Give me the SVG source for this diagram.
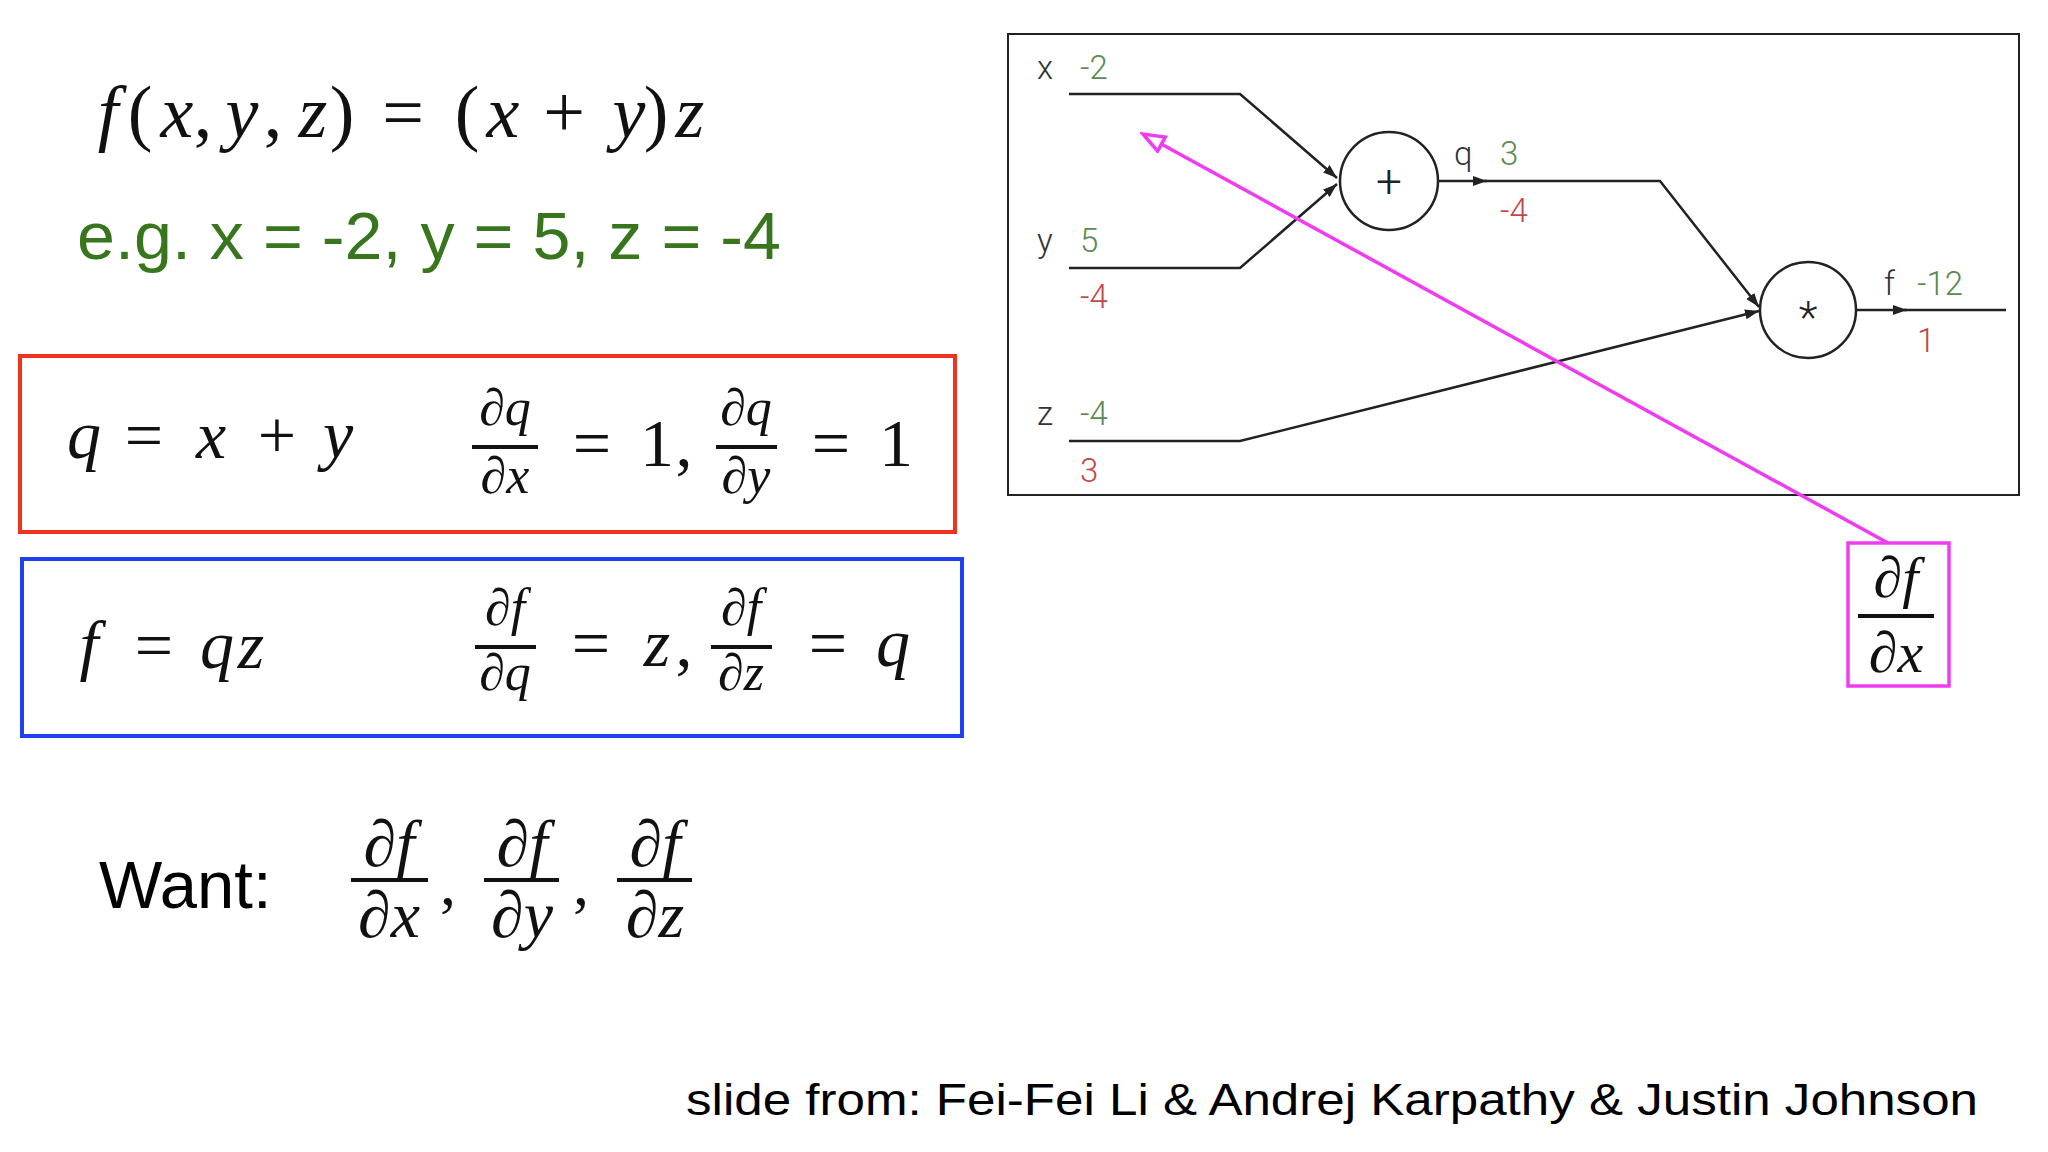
<svg xmlns="http://www.w3.org/2000/svg" width="2048" height="1152" viewBox="0 0 2048 1152">
<defs>
<style>
.m{font-family:"Liberation Serif","Times New Roman",serif;fill:#111}
.i{font-style:italic}
.sans{font-family:"Liberation Sans",Arial,sans-serif}
.lab{font-family:Roboto,"Liberation Sans",sans-serif;font-weight:300;font-size:33px}
.op{font-family:Roboto,"Liberation Sans",sans-serif;font-weight:300;fill:#222}
.lk{fill:#333}
.lg{fill:#5b8a50}
.lr{fill:#c04848}
.edge{fill:none;stroke:#222;stroke-width:2.5}
.bar{stroke:#111;stroke-width:4}
.node{fill:#fff;stroke:#222;stroke-width:2.5}
</style>
<marker id="ah" markerUnits="userSpaceOnUse" markerWidth="14" markerHeight="10" refX="14" refY="5" orient="auto"><path d="M0,0 L14,5 L0,10 z" fill="#222"/></marker>
<marker id="mh" markerUnits="userSpaceOnUse" markerWidth="26" markerHeight="20" refX="23" refY="10" orient="auto"><path d="M2,2 L23,10 L2,18 z" fill="#fff" stroke="#f03cf0" stroke-width="3.5"/></marker>
</defs>
<rect width="2048" height="1152" fill="#fff"/>

<g id="formula">
<text class="m" font-size="74" y="137" text-anchor="middle"><tspan class="i" x="108">f</tspan><tspan x="140">(</tspan><tspan class="i" x="177">x</tspan><tspan x="203">,</tspan><tspan class="i" x="242">y</tspan><tspan x="273">,</tspan><tspan class="i" x="313">z</tspan><tspan x="342">)</tspan><tspan x="403">=</tspan><tspan x="467">(</tspan><tspan class="i" x="503">x</tspan><tspan x="564">+</tspan><tspan class="i" x="629">y</tspan><tspan x="656">)</tspan><tspan class="i" x="690">z</tspan></text>
</g>

<g id="example">
<text class="sans" font-size="66" x="77" y="259" fill="#38761d" textLength="704" lengthAdjust="spacingAndGlyphs">e.g. x = -2, y = 5, z = -4</text>
</g>

<g id="add-box">
<rect x="20" y="356" width="935" height="176" fill="none" stroke="#f0321e" stroke-width="4"/>
<text class="m" font-size="68" y="458" text-anchor="middle"><tspan class="i" x="84">q</tspan><tspan x="144">=</tspan><tspan class="i" x="211">x</tspan><tspan x="277">+</tspan><tspan class="i" x="338">y</tspan></text>
<text class="m" font-size="52" text-anchor="middle"><tspan x="505" y="425">∂<tspan class="i">q</tspan></tspan><tspan x="505" y="493">∂<tspan class="i">x</tspan></tspan></text>
<line class="bar" x1="472" y1="447" x2="538" y2="447"/>
<text class="m" font-size="68" y="466" text-anchor="middle"><tspan x="592">=</tspan><tspan x="657">1</tspan><tspan x="684">,</tspan></text>
<text class="m" font-size="52" text-anchor="middle"><tspan x="746" y="425">∂<tspan class="i">q</tspan></tspan><tspan x="746" y="493">∂<tspan class="i">y</tspan></tspan></text>
<line class="bar" x1="716" y1="447" x2="777" y2="447"/>
<text class="m" font-size="68" y="466" text-anchor="middle"><tspan x="831">=</tspan><tspan x="896">1</tspan></text>
</g>

<g id="mul-box">
<rect x="22" y="559" width="940" height="177" fill="none" stroke="#1f3ff0" stroke-width="4"/>
<text class="m" font-size="68" y="668" text-anchor="middle"><tspan class="i" x="89">f</tspan><tspan x="154">=</tspan><tspan class="i" x="217">q</tspan><tspan class="i" x="251">z</tspan></text>
<text class="m" font-size="52" text-anchor="middle"><tspan x="505" y="625">∂<tspan class="i">f</tspan></tspan><tspan x="505" y="690">∂<tspan class="i">q</tspan></tspan></text>
<line class="bar" x1="475" y1="647" x2="536" y2="647"/>
<text class="m" font-size="68" y="666" text-anchor="middle"><tspan x="591">=</tspan><tspan class="i" x="657">z</tspan><tspan x="684">,</tspan></text>
<text class="m" font-size="52" text-anchor="middle"><tspan x="741" y="625">∂<tspan class="i">f</tspan></tspan><tspan x="741" y="690">∂<tspan class="i">z</tspan></tspan></text>
<line class="bar" x1="711" y1="647" x2="772" y2="647"/>
<text class="m" font-size="68" y="666" text-anchor="middle"><tspan x="828">=</tspan><tspan class="i" x="893">q</tspan></text>
</g>

<g id="want">
<text class="sans" font-size="67" x="99" y="908" fill="#000">Want:</text>
<text class="m" font-size="66" text-anchor="middle"><tspan x="389" y="866">∂<tspan class="i">f</tspan></tspan><tspan x="389" y="937">∂<tspan class="i">x</tspan></tspan></text>
<line class="bar" x1="351" y1="880" x2="428" y2="880" stroke-width="5"/>
<text class="m" font-size="64" x="440" y="905">,</text>
<text class="m" font-size="66" text-anchor="middle"><tspan x="522" y="866">∂<tspan class="i">f</tspan></tspan><tspan x="522" y="937">∂<tspan class="i">y</tspan></tspan></text>
<line class="bar" x1="484" y1="880" x2="559" y2="880" stroke-width="5"/>
<text class="m" font-size="64" x="573" y="905">,</text>
<text class="m" font-size="66" text-anchor="middle"><tspan x="655" y="866">∂<tspan class="i">f</tspan></tspan><tspan x="655" y="937">∂<tspan class="i">z</tspan></tspan></text>
<line class="bar" x1="617" y1="880" x2="692" y2="880" stroke-width="5"/>
</g>

<g id="graph-frame">
<rect x="1008" y="34" width="1011" height="461" fill="#fff" stroke="#222" stroke-width="2"/>
</g>

<g id="connectors">
<polyline class="edge" points="1069,94 1240,94 1337,178" marker-end="url(#ah)"/>
<polyline class="edge" points="1069,268 1240,268 1337,184" marker-end="url(#ah)"/>
<polyline class="edge" points="1069,441 1240,441 1759,311" marker-end="url(#ah)"/>
<line class="edge" x1="1438" y1="181" x2="1487" y2="181" marker-end="url(#ah)"/>
<polyline class="edge" points="1484,181 1660,181 1759,307" marker-end="url(#ah)"/>
<line class="edge" x1="1856" y1="310" x2="1907" y2="310" marker-end="url(#ah)"/>
<line class="edge" x1="1904" y1="310" x2="2006" y2="310"/>
<line x1="1888" y1="543" x2="1143" y2="134" stroke="#f03cf0" stroke-width="3.5" marker-end="url(#mh)"/>
</g>

<g id="node-add">
<circle class="node" cx="1389" cy="181" r="49"/>
<text class="op" style="font-size:46px" x="1389" y="197" text-anchor="middle">+</text>
</g>
<g id="node-mul">
<circle class="node" cx="1808" cy="310" r="48"/>
<text class="op" style="font-size:44px" x="1808" y="333" text-anchor="middle">*</text>
</g>

<g id="labels">
<text class="lab lk" x="1037" y="79">x</text>
<text class="lab lg" x="1080" y="79">-2</text>
<text class="lab lk" x="1037" y="252">y</text>
<text class="lab lg" x="1080" y="252">5</text>
<text class="lab lr" x="1080" y="308">-4</text>
<text class="lab lk" x="1037" y="425">z</text>
<text class="lab lg" x="1080" y="425">-4</text>
<text class="lab lr" x="1080" y="482">3</text>
<text class="lab lk" x="1454" y="165">q</text>
<text class="lab lg" x="1500" y="165">3</text>
<text class="lab lr" x="1500" y="222">-4</text>
<text class="lab lk" x="1884" y="295">f</text>
<text class="lab lg" x="1917" y="295">-12</text>
<text class="lab lr" x="1917" y="352">1</text>
</g>

<g id="dfdx-box">
<rect x="1848" y="543" width="101" height="143" fill="#fff" stroke="#f03cf0" stroke-width="3.5"/>
<text class="m" font-size="58" text-anchor="middle"><tspan x="1896" y="597">∂<tspan class="i">f</tspan></tspan><tspan x="1896" y="672">∂<tspan class="i">x</tspan></tspan></text>
<line class="bar" x1="1858" y1="616" x2="1934" y2="616" stroke-width="5"/>
</g>

<g id="credit">
<text class="sans" font-size="44" x="686" y="1115" fill="#000" textLength="1292" lengthAdjust="spacingAndGlyphs">slide from: Fei-Fei Li &amp; Andrej Karpathy &amp; Justin Johnson</text>
</g>
</svg>
